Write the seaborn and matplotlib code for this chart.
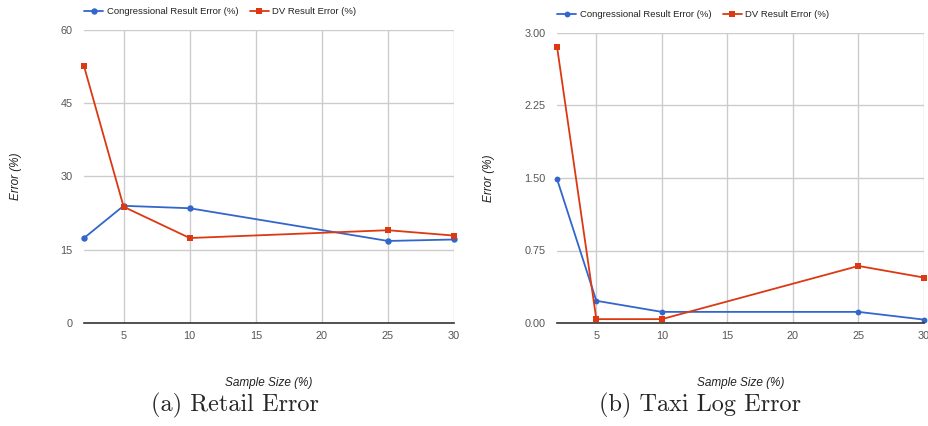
import pandas as pd
import seaborn as sns
import matplotlib.pyplot as plt

# Sample sizes (%) shared by both panels
sample_size = [2, 5, 10, 25, 30]

# Retail panel values (%)
retail_congressional = [17.4, 24.0, 23.5, 16.8, 17.1]
retail_dv = [52.6, 23.8, 17.4, 19.0, 17.9]

# Taxi log panel values (%)
taxi_congressional = [1.49, 0.23, 0.115, 0.115, 0.035]
taxi_dv = [2.86, 0.04, 0.04, 0.59, 0.47]

series_names = ["Congressional Result Error (%)", "DV Result Error (%)"]
colors = {series_names[0]: "#3366cc", series_names[1]: "#dc3912"}
markers = {series_names[0]: "o", series_names[1]: "s"}

retail_yticks = [0, 15, 30, 45, 60]
taxi_yticks = [0.0, 0.75, 1.5, 2.25, 3.0]
xticks = [5, 10, 15, 20, 25, 30]


def long_frame(cong, dv):
    df = pd.DataFrame({"size": sample_size, series_names[0]: cong, series_names[1]: dv})
    return df.melt(id_vars="size", var_name="series", value_name="error")


sns.set_theme(style="white")
plt.rcParams["font.family"] = ["Liberation Sans", "DejaVu Sans"]

fig = plt.figure(figsize=(9.29, 4.26), dpi=100)
ax1 = fig.add_axes([84 / 929, 1 - 323 / 426, 370 / 929, 293 / 426])
ax2 = fig.add_axes([557 / 929, 1 - 323 / 426, 367 / 929, 290 / 426])

panels = [
    (ax1, long_frame(retail_congressional, retail_dv), retail_yticks, "{:.0f}", "(a) Retail Error", 235, 370, 293, 4.6),
    (ax2, long_frame(taxi_congressional, taxi_dv), taxi_yticks, "{:.2f}", "(b) Taxi Log Error", 700, 367, 290, 4.2),
]

for ax, df, yticks, fmt, caption, cx, w, h, ms in panels:
    sns.lineplot(data=df, x="size", y="error", hue="series", style="series",
                 palette=colors, markers=markers, dashes=False, ax=ax,
                 linewidth=1.3, markersize=ms, markeredgewidth=0, clip_on=False)
    ax.set_xlim(2, 30)
    ax.set_ylim(yticks[0], yticks[-1])
    ax.set_xticks(xticks)
    ax.set_yticks(yticks)
    ax.set_yticklabels([fmt.format(v) for v in yticks])
    ax.grid(True, color="#cccccc", linewidth=1)
    for side in ["top", "right", "left"]:
        ax.spines[side].set_visible(False)
    ax.spines["bottom"].set_color("#333333")
    ax.spines["bottom"].set_linewidth(1.2)
    ax.spines["bottom"].set_zorder(5)
    ax.tick_params(axis="both", labelsize=7.8, colors="#555555", length=0)
    ax.tick_params(axis="y", pad=8)
    ax.tick_params(axis="x", pad=6)
    ax.set_xlabel("Sample Size (%)", fontsize=8.5, style="italic", color="#222222")
    ax.set_ylabel("Error (%)", fontsize=8.5, style="italic", color="#222222")
    ax.xaxis.set_label_coords(0.5, -54 / h)
    ax.yaxis.set_label_coords(-62 / w, 0.5)
    ax.legend(loc="lower left", bbox_to_anchor=(-0.01, 1.035), ncol=2, frameon=False,
              fontsize=6.8, handlelength=2, handletextpad=0.4, columnspacing=1.2,
              borderaxespad=0, labelcolor="#222222")
    fig.text(cx / 929, 1 - 405 / 426, caption, ha="center", va="center",
             fontsize=17.5, family="cmr10")

fig.savefig("out.png", dpi=100)
